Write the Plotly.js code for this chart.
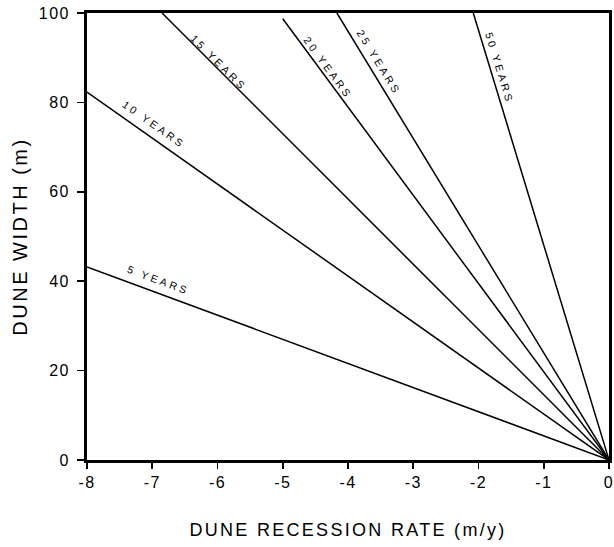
<!DOCTYPE html>
<html>
<head>
<meta charset="utf-8">
<script src="https://cdn.plot.ly/plotly-3.0.1.min.js"></script>
<style>
html,body{margin:0;padding:0;background:#fff;}
#chart{width:614px;height:547px;}
.annotation-text{letter-spacing:3px;}
.xtitle{letter-spacing:2.3px;}
.ytitle{letter-spacing:2.5px;}
.xtick text,.ytick text{letter-spacing:1.5px;}
</style>
</head>
<body>
<div id="chart"></div>
<script>
// Series: each line runs from its left/top end point to the origin
const seriesNames = ["5 YEARS", "10 YEARS", "15 YEARS", "20 YEARS", "25 YEARS", "50 YEARS"];
const startRate  = [-8, -8, -6.85, -5.0, -4.17, -2.08];   // m/y at left/top end
const startWidth = [43.2, 82.3, 100, 98.7, 100, 100];     // m at left/top end
const endRate    = [0, 0, 0, 0, 0, 0];
const endWidth   = [0, 0, 0, 0, 0, 0];

// Label anchor points (data coords) and angles along each line
const labelRate  = [-6.9, -6.98, -5.97, -4.3, -3.53, -1.68];
const labelWidth = [40.3, 75.1, 88.9, 87.7, 89.0, 87.6];
const labelAngle = [20.3, 35.2, 44.9, 53.5, 58.6, 73];

const xTicks = [-8, -7, -6, -5, -4, -3, -2, -1, 0];
const yTicks = [0, 20, 40, 60, 80, 100];

const FONT = "Liberation Sans, Arial, Helvetica, sans-serif";

const traces = seriesNames.map((n, i) => ({
  type: "scatter",
  mode: "lines",
  name: n,
  x: [startRate[i], endRate[i]],
  y: [startWidth[i], endWidth[i]],
  line: {color: "#000", width: 1.5},
  hoverinfo: "skip",
  showlegend: false
}));

const annotations = seriesNames.map((n, i) => ({
  x: labelRate[i], y: labelWidth[i], xref: "x", yref: "y",
  text: n, showarrow: false, textangle: labelAngle[i],
  font: {family: FONT, size: 10.5, color: "#000"}
}));

const layout = {
  width: 614, height: 547,
  margin: {l: 87, r: 5, t: 13, b: 87},
  paper_bgcolor: "#fff", plot_bgcolor: "#fff",
  font: {family: FONT, color: "#000"},
  xaxis: {
    range: [-8, 0], tickvals: xTicks, ticktext: xTicks.map(v => v === 0 ? "0" : "-" + Math.abs(v)),
    showgrid: false, zeroline: false,
    showline: true, linecolor: "#000", linewidth: 2.8, mirror: true,
    ticks: "outside", ticklen: 6, tickwidth: 1.6, tickcolor: "#000",
    ticklabeloverflow: "allow",
    tickfont: {family: FONT, size: 16, color: "#000"},
    title: {text: "DUNE RECESSION RATE (m/y)", font: {family: FONT, size: 18, color: "#000"}, standoff: 34}
  },
  yaxis: {
    range: [0, 100], tickvals: yTicks,
    showgrid: false, zeroline: false,
    showline: true, linecolor: "#000", linewidth: 2.8, mirror: true,
    ticks: "outside", ticklen: 7, tickwidth: 1.6, tickcolor: "#000",
    ticklabelstandoff: 4,
    tickfont: {family: FONT, size: 16, color: "#000"},
    title: {text: "DUNE WIDTH (m)", font: {family: FONT, size: 20, color: "#000"}, standoff: 6}
  },
  annotations: annotations
};

Plotly.newPlot("chart", traces, layout, {staticPlot: true, displayModeBar: false});
</script>
</body>
</html>
